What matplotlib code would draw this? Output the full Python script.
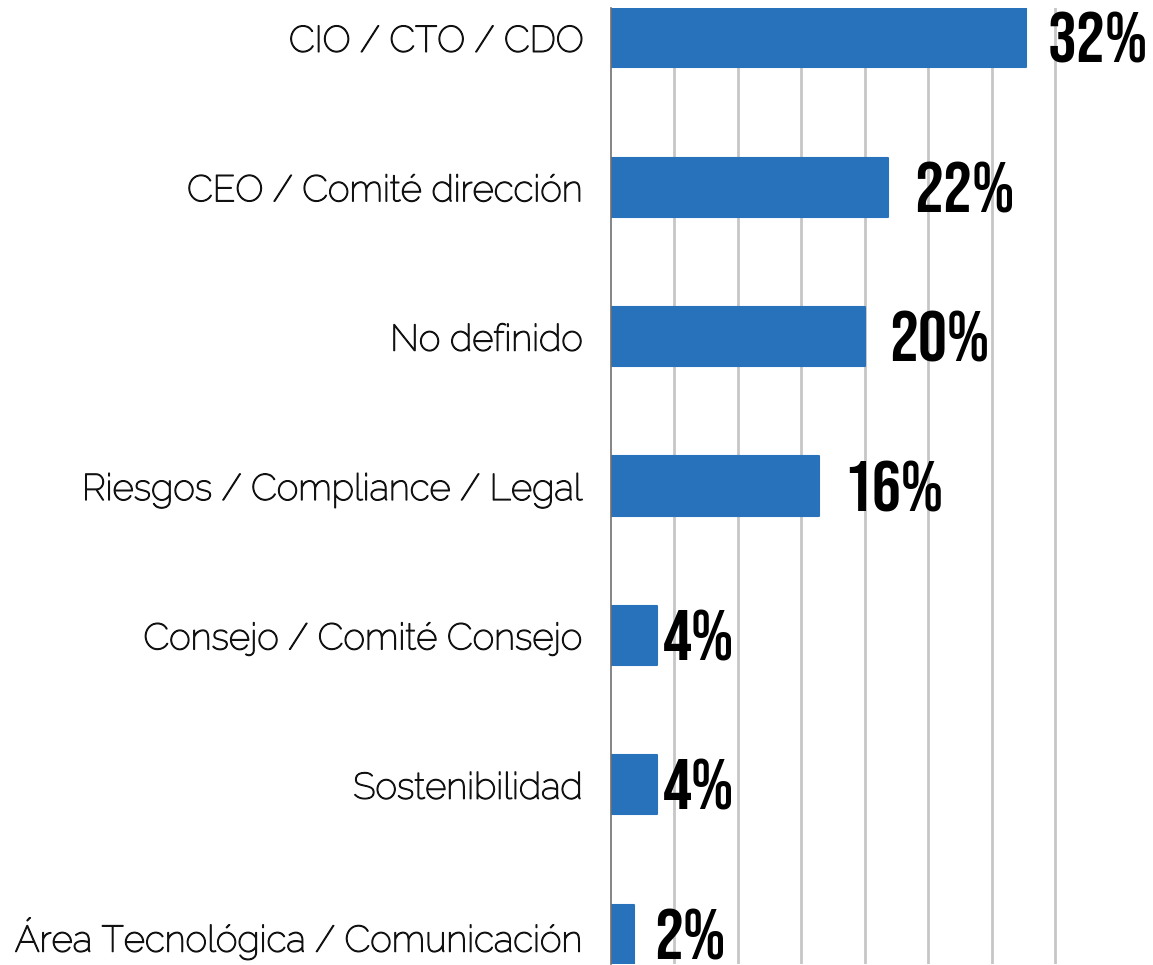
import matplotlib
matplotlib.use("Agg")
import matplotlib.pyplot as plt
from matplotlib.transforms import offset_copy
import matplotlib.patheffects as pe

categories = [
    "CIO / CTO / CDO",
    "CEO / Comité dirección",
    "No definido",
    "Riesgos / Compliance / Legal",
    "Consejo / Comité Consejo",
    "Sostenibilidad",
    "Área Tecnológica / Comunicación",
]
values = [32.7, 21.8, 20.0, 16.4, 3.6, 3.6, 1.8]
value_labels = ["32%", "22%", "20%", "16%", "4%", "4%", "2%"]
grid_ticks = [5, 10, 15, 20, 25, 30, 35]

# style
bar_color = "#2872bc"
label_gaps_px = [22, 27, 24, 24, 6, 6, 20]

W, H = 1153, 965
fig = plt.figure(figsize=(W / 100, H / 100), dpi=100)
ax = fig.add_axes([611 / W, 1 / H, (W - 611) / W, (964 - 8) / H])

ypos = list(range(len(categories)))
bars = ax.barh(ypos, values, height=0.395, color=bar_color, edgecolor=bar_color,
               linewidth=1.5, joinstyle="round", zorder=3)

ax.set_xlim(0, (W - 611) / 12.686)
ax.set_ylim(len(categories) - 1 + 0.2, -0.2)

ax.set_xticks(grid_ticks)
ax.set_xticklabels([])
ax.tick_params(axis="x", length=0)
ax.grid(axis="x", color="#c6c6c6", linewidth=2, zorder=0)

ax.set_yticks(ypos)
ax.set_yticklabels(categories, fontsize=26.5, family=["Raleway", "Lato", "DejaVu Sans"],
                   color="#111111")
for t in ax.get_yticklabels():
    t.set_path_effects([pe.withStroke(linewidth=0.9, foreground="#111111")])
ax.tick_params(axis="y", length=0, pad=20)

for s in ["top", "right", "bottom"]:
    ax.spines[s].set_visible(False)
ax.spines["left"].set_color("#707070")
ax.spines["left"].set_linewidth(1.2)
ax.spines["left"].set_zorder(4)

for y, v, lab, gap in zip(ypos, values, value_labels, label_gaps_px):
    tr = offset_copy(ax.transData, fig=fig, x=gap, y=0, units="dots")
    ax.text(v, y, lab, transform=tr, ha="left", va="center",
            fontsize=52, fontweight="bold", fontstretch="condensed",
            family=["Bebas Neue", "Oswald", "DejaVu Sans"], color="black",
            clip_on=False)

fig.savefig("out.png", dpi=100)
